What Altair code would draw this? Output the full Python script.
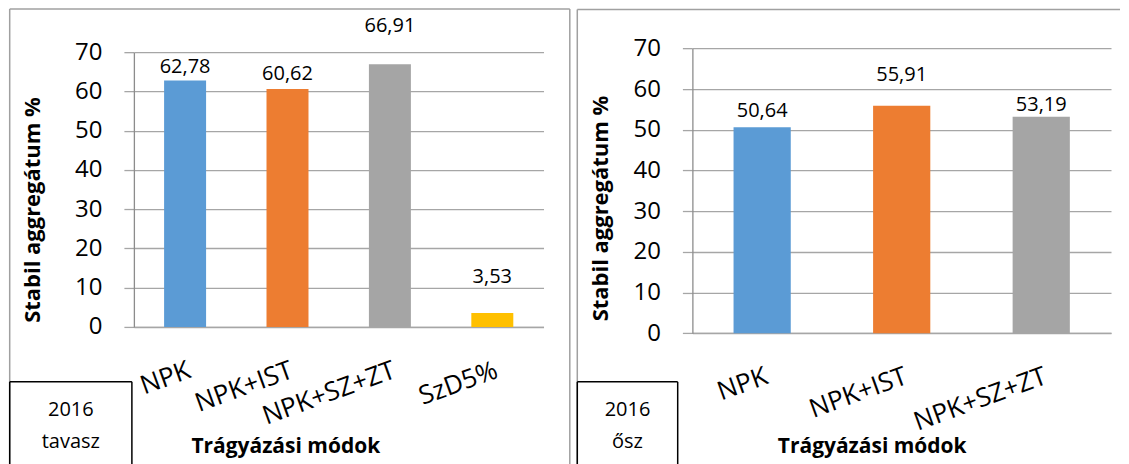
import altair as alt
import pandas as pd

# ---------------- data ----------------
spring_categories = ["NPK", "NPK+IST", "NPK+SZ+ZT", "SzD5%"]
spring_values = [62.78, 60.62, 66.91, 3.53]
spring_labels = ["62,78", "60,62", "66,91", "3,53"]

autumn_categories = ["NPK", "NPK+IST", "NPK+SZ+ZT"]
autumn_values = [50.64, 55.91, 53.19]
autumn_labels = ["50,64", "55,91", "53,19"]

y_ticks = [0, 10, 20, 30, 40, 50, 60, 70]
y_title = "Stabil aggregátum %"
x_title = "Trágyázási módok"
spring_box = ["2016", "tavasz"]
autumn_box = ["2016", "ősz"]

# ---------------- style ----------------
FONT = "Open Sans"
BAR_COLORS = ["#5B9BD5", "#ED7D31", "#A5A5A5", "#FFC000"]
GRID = "#a6a6a6"
AXISLINE = "#8c8c8c"
BORDER = "#a0a0a0"
# pixel gap between bar top and value label (labels were hand-placed in the original)
spring_gaps = [8, 9, 32, 30]
autumn_gaps = [10, 25, 6]


def one(v=0):
    return pd.DataFrame({"k": [v]})


def rule(x1, y1, x2, y2, color, width):
    return alt.Chart(one()).mark_rule(color=color, strokeWidth=width).encode(
        x=alt.value(x1), y=alt.value(y1), x2=alt.value(x2), y2=alt.value(y2)
    )


def label(txt, x, y, size, bold=False, angle=0):
    kw = dict(font=FONT, fontSize=size, color="#000", align="center",
              baseline="middle", text=txt)
    if bold:
        kw["fontWeight"] = "bold"
    if angle:
        kw["angle"] = angle
    return alt.Chart(one()).mark_text(**kw).encode(x=alt.value(x), y=alt.value(y))


def panel(cats, vals, labs, gaps, W, H, yrange, geo, box_lines):
    df = pd.DataFrame({"cat": cats, "val": vals, "lab": labs, "gap": gaps})
    xenc = alt.X(
        "cat:N", sort=cats,
        scale=alt.Scale(paddingInner=0.59, paddingOuter=0.295),
        axis=alt.Axis(title=None, labelAngle=340, labelAlign="right",
                      labelBaseline="top", labelPadding=geo["lpad"], ticks=False,
                      domainColor=GRID, domainWidth=1.5, labelFont=FONT,
                      labelFontSize=26, labelColor="#000", labelOverlap=False,
                      labelLimit=400),
    )
    yenc = alt.Y(
        "val:Q", scale=alt.Scale(domain=[0, 70], nice=False, zero=True, range=yrange),
        axis=alt.Axis(values=y_ticks, title=None, grid=True, gridColor=GRID,
                      gridWidth=1.3, tickColor=GRID, tickWidth=1.3, tickSize=10,
                      domainColor=AXISLINE, domainWidth=1.3, labelFont=FONT,
                      labelFontSize=24, labelPadding=22, labelColor="#000",
                      labelOverlap=False),
    )
    bars = alt.Chart(df).mark_bar().encode(
        x=xenc, y=yenc,
        color=alt.Color("cat:N", scale=alt.Scale(domain=cats, range=BAR_COLORS[:len(cats)]),
                        legend=None),
    )
    layers = [bars]
    for g in sorted(set(gaps)):
        layers.append(
            alt.Chart(df).transform_filter(alt.datum.gap == g)
            .mark_text(font=FONT, fontSize=20, color="#000", baseline="alphabetic",
                       align="center", dy=-g)
            .encode(x=xenc, y=yenc, text="lab:N")
        )
    # panel border (left, top, optional right)
    bl, bt, br, bb, btr = geo["bl"], geo["bt"], geo["br"], geo["bb"], geo["btr"]
    layers.append(rule(bl, bt, bl, bb, BORDER, 1.5))
    layers.append(rule(bl, bt, btr, bt, BORDER, 1.5))
    if br is not None:
        layers.append(rule(br, bt, br, bb, BORDER, 1.5))
    # season box
    xl, xr, yt = geo["boxl"], geo["boxr"], geo["boxt"]
    layers.append(rule(xl, yt, xl, bb, "#000", 1.5))
    layers.append(rule(xl, yt, xr, yt, "#000", 1.5))
    layers.append(rule(xr, yt, xr, bb, "#000", 1.5))
    cx = (xl + xr) / 2
    layers.append(label(box_lines[0], cx, geo["box1"], 20))
    layers.append(label(box_lines[1], cx, geo["box2"], 20))
    # axis titles
    layers.append(label(y_title, geo["ytx"], geo["yty"], 22, bold=True, angle=270))
    layers.append(label(x_title, geo["xtx"], geo["xty"], 21, bold=True))
    return alt.layer(*layers).properties(width=W, height=H)


left_geo = dict(bl=-124.3, bt=-43.2, br=436.3, bb=418, btr=436.3,
                boxl=-124.3, boxr=-2, boxt=330, box1=358, box2=390,
                ytx=-101.3, yty=158, xtx=152, xty=395, lpad=30)
right_geo = dict(bl=-115.2, bt=-42.7, br=None, bb=418, btr=428,
                 boxl=-115.2, boxr=-14.7, boxt=330, box1=358, box2=390,
                 ytx=-91.2, yty=156.5, xtx=180, xty=395, lpad=30)

left = panel(spring_categories, spring_values, spring_labels, spring_gaps,
             410, 275, [275, 0], left_geo, spring_box)
right = panel(autumn_categories, autumn_values, autumn_labels, autumn_gaps,
              419, 281, [281.3, -3.7], right_geo, autumn_box)

chart = alt.hconcat(left, right, spacing=5).properties(
    padding=0, background="white"
).configure_view(stroke=None)

chart.save("out.html", embed_options={"renderer": "svg", "actions": False})
